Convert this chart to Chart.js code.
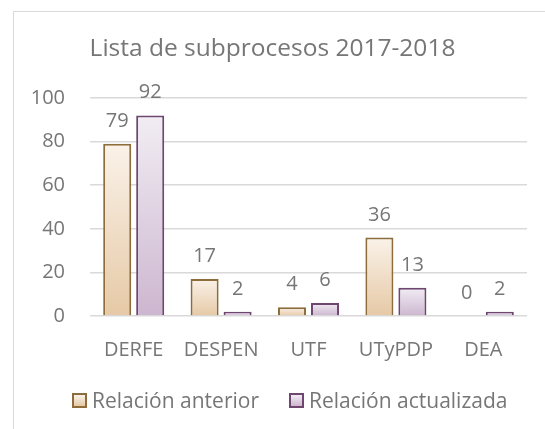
<!DOCTYPE html>
<html>
<head>
<meta charset="utf-8">
<script src="https://cdn.jsdelivr.net/npm/chart.js@4"></script>
<style>
  body { margin: 0; background: #fff; font-family: "Open Sans", sans-serif; }
  #wrap { position: relative; width: 545px; height: 429px; overflow: hidden; }
  #frame { position: absolute; left: 13px; top: 11px; width: 600px; height: 500px; border: 1px solid #d9d9d9; }
  #chart { position: absolute; left: 0; top: 0; }
  #title { position: absolute; left: 0; width: 545px; top: 32px; line-height: 30px; text-align: center; font-size: 24.5px; color: #767676; }
  #legend { position: absolute; left: 72px; top: 388px; line-height: 24px; display: flex; font-size: 21px; color: #767676; }
  .item { display: flex; align-items: center; margin-right: 30px; }
  .swatch { width: 11px; height: 11px; border: 2px solid; margin-right: 5px; }
</style>
</head>
<body>
<div id="wrap">
  <div id="frame"></div>
  <canvas id="chart" width="545" height="429"></canvas>
  <div id="title">Lista de subprocesos 2017-2018</div>
  <div id="legend"></div>
</div>
<script>
// chart data
const categories = ['DERFE', 'DESPEN', 'UTF', 'UTyPDP', 'DEA'];
const seriesLabels = ['Relación anterior', 'Relación actualizada'];
const anterior = [79, 17, 4, 36, 0];
const actualizada = [92, 2, 6, 13, 2];
const yTicks = [0, 20, 40, 60, 80, 100];

const styles = [
  { top: '#faf2e9', bottom: '#e6c9a6', border: '#8e6d3c' },
  { top: '#f1edf3', bottom: '#cdb6d0', border: '#6e4670' }
];

function barGradient(style) {
  return (ctx) => {
    const chart = ctx.chart;
    if (!chart.chartArea || ctx.parsed === undefined) return style.bottom;
    const y = chart.scales.y;
    const top = y.getPixelForValue(ctx.parsed.y);
    const bottom = y.getPixelForValue(0);
    if (bottom - top < 1) return style.bottom;
    const g = chart.ctx.createLinearGradient(0, top, 0, bottom);
    g.addColorStop(0, style.top);
    g.addColorStop(1, style.bottom);
    return g;
  };
}

// value labels above each bar
const valueLabels = {
  id: 'valueLabels',
  afterDatasetsDraw(chart) {
    const ctx = chart.ctx;
    ctx.save();
    ctx.font = '20px "Open Sans"';
    ctx.fillStyle = '#767676';
    ctx.textAlign = 'center';
    ctx.textBaseline = 'alphabetic';
    chart.data.datasets.forEach((ds, i) => {
      chart.getDatasetMeta(i).data.forEach((bar, j) => {
        ctx.fillText(ds.data[j], bar.x, bar.y - 17);
      });
    });
    ctx.restore();
  }
};

const tickFont = { family: 'Open Sans', size: 20 };

new Chart(document.getElementById('chart'), {
  type: 'bar',
  data: {
    labels: categories,
    datasets: [anterior, actualizada].map((d, i) => ({
      label: seriesLabels[i],
      data: d,
      backgroundColor: barGradient(styles[i]),
      borderColor: styles[i].border,
      borderWidth: 2,
      categoryPercentage: 0.755,
      barPercentage: 0.85
    }))
  },
  options: {
    responsive: false,
    animation: false,
    layout: { padding: { top: 98, right: 18, bottom: 0, left: 0 } },
    plugins: { legend: { display: false }, title: { display: false }, tooltip: { enabled: false } },
    scales: {
      x: {
        grid: { display: false },
        border: { display: false },
        ticks: { color: '#767676', font: tickFont, padding: 14 },
        afterFit: (s) => { s.height = 113; }
      },
      y: {
        min: 0,
        max: 100,
        afterBuildTicks: (s) => { s.ticks = yTicks.map(v => ({ value: v })); },
        grid: { color: '#d9d9d9', lineWidth: 1.5, drawTicks: false },
        border: { display: false },
        ticks: { color: '#767676', font: tickFont, padding: 25 },
        afterFit: (s) => { s.width = 90; }
      }
    }
  },
  plugins: [valueLabels]
});

// legend
const legend = document.getElementById('legend');
seriesLabels.forEach((label, i) => {
  const item = document.createElement('div');
  item.className = 'item';
  const sw = document.createElement('span');
  sw.className = 'swatch';
  sw.style.borderColor = styles[i].border;
  sw.style.background = `linear-gradient(${styles[i].top}, ${styles[i].bottom})`;
  const txt = document.createElement('span');
  txt.textContent = label;
  item.appendChild(sw);
  item.appendChild(txt);
  legend.appendChild(item);
});
</script>
</body>
</html>
